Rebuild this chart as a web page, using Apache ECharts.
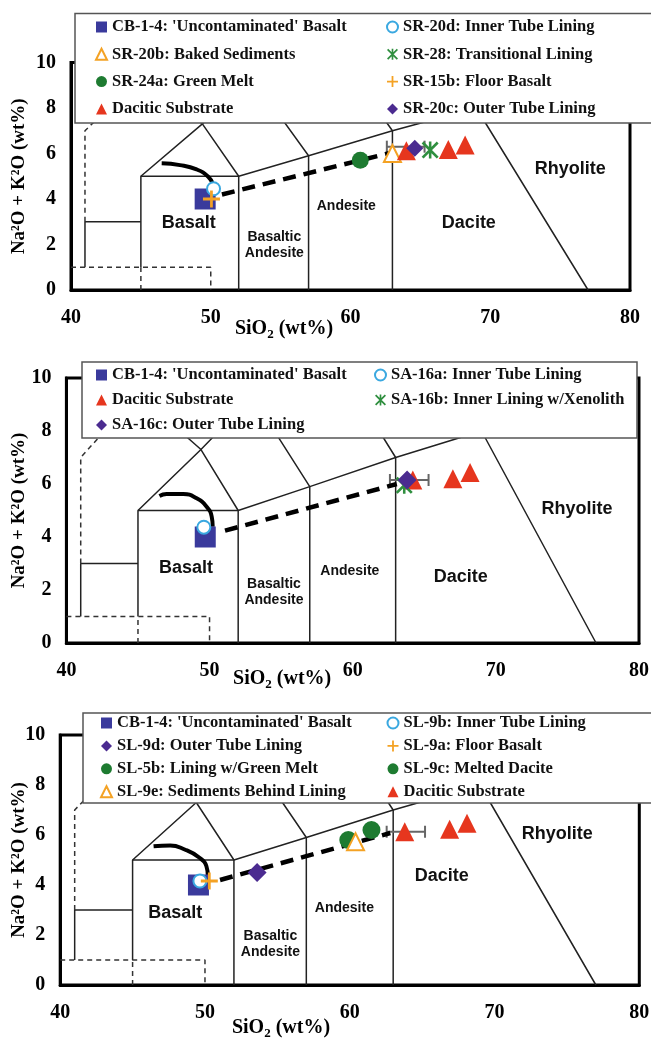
<!DOCTYPE html>
<html><head><meta charset="utf-8">
<script src="https://cdn.jsdelivr.net/npm/echarts@6/dist/echarts.min.js"></script>
<style>html,body{margin:0;padding:0;background:#fff}#c{width:651px;height:1039px}</style>
</head><body><div id="c"></div>
<script>
// ---------- data ----------
const xMin = 40, xMax = 80, xStep = 10;
const yMin = 0, yMax = 10, yStep = 2;

// TAS field boundaries (SiO2, Na2O+K2O)
const tasSolid = [
  [[41,1],[41,3],[45,3]],
  [[45,1],[45,5],[52,5],[52,0]],
  [[45,5],[49.4,7.3],[53,9.3],[57.6,11.7]],
  [[52,5],[49.4,7.3],[45,9.4]],
  [[52,5],[57,5.9],[63,7],[69,8]],
  [[57,0],[57,5.9],[53,9.3]],
  [[63,0],[63,7],[57.6,11.7]],
  [[77,0],[69,8],[69,13]]
];
const tasDashed = [
  [[41,3],[41,7],[45,9.4]],
  [[40,1],[50,1],[50,0]],
  [[45,0],[45,1]]
];
const regionNames = ['Basalt', 'Basaltic\nAndesite', 'Andesite', 'Dacite', 'Rhyolite'];
const regionPosP1 = [[48.43,2.93],[54.55,1.98],[59.7,3.69],[68.47,2.96],[75.73,5.3]];
const regionPosP2 = [[48.35,2.84],[54.5,1.91],[59.8,2.73],[67.55,2.5],[75.67,5.04]];
const regionPosP3 = [[47.94,2.87],[54.52,1.64],[59.63,3.07],[66.36,4.37],[74.33,6.03]];

// Panel 1 (SR samples)
const cb14P1 = [[49.6, 4.0]];
const sr20d = [[50.2, 4.45]];
const sr15b = [[50.05, 4.0]];
const sr24a = [[60.7, 5.7]];
const sr20b = [[63.0, 6.0]];
const dacP1 = [[64.0, 6.12], [67.0, 6.18], [68.2, 6.37]];
const sr20c = [[64.6, 6.23]];
const sr28 = [[65.7, 6.15]];
const errP1 = [[62.6, 65.3, 6.3]];
const trendP1 = [[50.8, 4.2], [63.0, 6.05]];
const curveP1 = [[46.49,5.57],[47.8,5.49],[48.99,5.3],[49.82,4.98],[50.18,4.62],[50.23,4.43]];

// Panel 2 (SA samples)
const cb14P2 = [[49.7, 4.0]];
const sa16a = [[49.6, 4.37]];
const dacP2 = [[64.2, 6.15], [67.0, 6.2], [68.2, 6.43]];
const sa16b = [[63.6, 5.95]];
const sa16c = [[63.8, 6.15]];
const errP2 = [[62.6, 65.3, 6.15]];
const trendP2 = [[51.08, 4.24], [63.08, 6.0]];
const curveP2 = [[46.5,5.55],[47.0,5.62],[48.17,5.62],[49.1,5.46],[49.8,5.14],[50.15,4.77],[50.22,4.39]];

// Panel 3 (SL samples)
const cb14P3 = [[49.55, 4.0]];
const sl9b = [[49.65, 4.16]];
const sl9a = [[50.3, 4.16]];
const sl9d = [[53.6, 4.5]];
const sl5b = [[59.9, 5.8]];
const sl9c = [[61.5, 6.2]];
const sl9e = [[60.4, 5.73]];
const dacP3 = [[63.8, 6.13], [66.9, 6.23], [68.1, 6.47]];
const errP3 = [[62.55, 65.2, 6.13]];
const trendP3 = [[51.04, 4.2], [62.8, 6.08]];
const curveP3 = [[46.45,5.55],[47.6,5.58],[48.6,5.42],[49.6,5.1],[50.1,4.75],[50.2,4.35]];

// ---------- names ----------
const N_CB = "CB-1-4: 'Uncontaminated' Basalt";
const N_DAC = 'Dacitic Substrate';
const legendP1a = [N_CB, 'SR-20b: Baked Sediments', 'SR-24a: Green Melt', N_DAC];
const legendP1b = ['SR-20d: Inner Tube Lining', 'SR-28: Transitional Lining', 'SR-15b: Floor Basalt', 'SR-20c: Outer Tube Lining'];
const legendP2a = [N_CB, N_DAC, 'SA-16c: Outer Tube Lining'];
const legendP2b = ['SA-16a: Inner Tube Lining', 'SA-16b: Inner Lining w/Xenolith'];
const legendP3a = [N_CB, 'SL-9d: Outer Tube Lining', 'SL-5b: Lining w/Green Melt', 'SL-9e: Sediments Behind Lining'];
const legendP3b = ['SL-9b: Inner Tube Lining', 'SL-9a: Floor Basalt', 'SL-9c: Melted Dacite', N_DAC];

// ---------- styles ----------
const SERIF = 'Liberation Serif', SANS = 'Liberation Sans';
const C = {navy:'#3a3a9c', blue:'#3aa8e0', orange:'#f4a224', greenX:'#2f8f3f', green:'#1e7b31', red:'#e6361e', purple:'#4b2b90'};
const PLUS = 'path://M-1.3,-8L1.3,-8L1.3,8L-1.3,8Z M-8,-1.3L8,-1.3L8,1.3L-8,1.3Z';
const STAR = 'path://M-8,-6.2L-6.2,-8L8,6.2L6.2,8Z M6.2,-8L8,-6.2L-6.2,8L-8,6.2Z M-1.2,-8L1.2,-8L1.2,8L-1.2,8Z';

const grids = [
  {left: 71, top: 62.5, width: 559, height: 227.5},
  {left: 66.4, top: 378, width: 572.6, height: 265},
  {left: 60.2, top: 735, width: 579.1, height: 250}
];
const yNameGap = [42, 37.7, 32];
const xNameGap = [27, 24, 31];
const xNameShift = [133, 141, 137.5];

const series = [];
function lineSer(gi, data, style, extra) {
  series.push(Object.assign({type:'line', xAxisIndex:gi, yAxisIndex:gi, data:data, symbol:'none',
    silent:true, animation:false, lineStyle:style, z:1}, extra || {}));
}
function scat(gi, name, data, symbol, size, color, extra) {
  const empty = symbol.indexOf('empty') === 0;
  series.push(Object.assign({type:'scatter', name:name, xAxisIndex:gi, yAxisIndex:gi, data:data,
    symbol:symbol, symbolSize:size, animation:false, z:3,
    itemStyle: empty ? {color:color, borderColor:color, borderWidth:2, opacity:1} : {color:color, opacity:1}}, extra || {}));
}
function errSer(gi, data) {
  series.push({type:'custom', xAxisIndex:gi, yAxisIndex:gi, data:data, silent:true, animation:false, z:2,
    encode:{x:[0,1], y:2},
    renderItem: function (params, api) {
      const lo = api.coord([api.value(0), api.value(2)]);
      const hi = api.coord([api.value(1), api.value(2)]);
      const h = 6, st = {stroke:'#666', lineWidth:2};
      return {type:'group', children:[
        {type:'line', shape:{x1:lo[0], y1:lo[1], x2:hi[0], y2:hi[1]}, style:st},
        {type:'line', shape:{x1:lo[0], y1:lo[1]-h, x2:lo[0], y2:lo[1]+h}, style:st},
        {type:'line', shape:{x1:hi[0], y1:hi[1]-h, x2:hi[0], y2:hi[1]+h}, style:st}
      ]};
    }});
}
function regionSer(gi, pos) {
  const data = pos.map(function (p, i) { return {value:p, name:regionNames[i]}; });
  data[1].label = {fontSize:14, lineHeight:16};
  data[2].label = {fontSize:14};
  series.push({type:'scatter', xAxisIndex:gi, yAxisIndex:gi, silent:true, animation:false, z:2,
    symbolSize:1, itemStyle:{color:'rgba(0,0,0,0)', opacity:1},
    data: data,
    label:{show:true, position:'inside', formatter:'{b}', color:'#111', fontFamily:SANS, fontWeight:'bold',
      fontSize:18, lineHeight:17},
    labelLayout:{hideOverlap:false}
  });
}
function base(gi, trend, curve, pos) {
  tasSolid.forEach(function (pl) { lineSer(gi, pl, {color:'#222', width:1.5}); });
  tasDashed.forEach(function (pl) { lineSer(gi, pl, {color:'#333', width:1.5, type:[5,4]}); });
  regionSer(gi, pos);
  lineSer(gi, trend, {color:'#000', width:4.5, type:[13,8]}, {z:2});
  lineSer(gi, curve, {color:'#000', width:4}, {z:2, smooth:true});
}

// Panel 1
base(0, trendP1, curveP1, regionPosP1);
errSer(0, errP1);
scat(0, N_CB, cb14P1, 'rect', 21, C.navy);
scat(0, 'SR-20d: Inner Tube Lining', sr20d, 'emptyCircle', 13, C.blue);
scat(0, 'SR-15b: Floor Basalt', sr15b, PLUS, 17, C.orange);
scat(0, 'SR-24a: Green Melt', sr24a, 'circle', 17, C.green);
scat(0, 'SR-20b: Baked Sediments', sr20b, 'emptyTriangle', 17, C.orange);
scat(0, N_DAC, dacP1, 'triangle', 19, C.red);
scat(0, 'SR-20c: Outer Tube Lining', sr20c, 'diamond', 17, C.purple);
scat(0, 'SR-28: Transitional Lining', sr28, STAR, 17, C.greenX);

// Panel 2
base(1, trendP2, curveP2, regionPosP2);
errSer(1, errP2);
scat(1, N_CB, cb14P2, 'rect', 21, C.navy);
scat(1, 'SA-16a: Inner Tube Lining', sa16a, 'emptyCircle', 13, C.blue);
scat(1, N_DAC, dacP2, 'triangle', 19, C.red);
scat(1, 'SA-16b: Inner Lining w/Xenolith', sa16b, STAR, 17, C.greenX);
scat(1, 'SA-16c: Outer Tube Lining', sa16c, 'diamond', 19, C.purple);

// Panel 3
base(2, trendP3, curveP3, regionPosP3);
errSer(2, errP3);
scat(2, N_CB, cb14P3, 'rect', 21, C.navy);
scat(2, 'SL-9b: Inner Tube Lining', sl9b, 'emptyCircle', 13, C.blue);
scat(2, 'SL-9a: Floor Basalt', sl9a, PLUS, 17, C.orange);
scat(2, 'SL-9d: Outer Tube Lining', sl9d, 'diamond', 19, C.purple);
scat(2, 'SL-5b: Lining w/Green Melt', sl5b, 'circle', 18, C.green);
scat(2, 'SL-9c: Melted Dacite', sl9c, 'circle', 18, C.green);
scat(2, 'SL-9e: Sediments Behind Lining', sl9e, 'emptyTriangle', 17, C.orange);
scat(2, N_DAC, dacP3, 'triangle', 19, C.red);

const tickText = {fontFamily:SERIF, fontWeight:'bold', fontSize:20, color:'#000'};
const xAxes = grids.map(function (g, i) {
  return {type:'value', gridIndex:i, min:xMin, max:xMax, interval:xStep,
    axisLine:{show:true, onZero:false, lineStyle:{color:'#000', width:3}},
    axisTick:{show:false}, splitLine:{show:false},
    axisLabel:Object.assign({margin:18}, tickText),
    name:'{a|SiO}{b|2}{a| (wt%)}', nameLocation:'middle', nameGap:xNameGap[i], nameMoveOverlap:false,
    nameTextStyle:{padding:[0, xNameShift[i], 0, 0],
      rich:{a:{fontFamily:SERIF, fontWeight:'bold', fontSize:20, color:'#000', lineHeight:24},
            b:{fontFamily:SERIF, fontWeight:'bold', fontSize:13, color:'#000', lineHeight:13, verticalAlign:'bottom'}}}
  };
});
const yAxes = grids.map(function (g, i) {
  return {type:'value', gridIndex:i, min:yMin, max:yMax, interval:yStep,
    axisLine:{show:true, onZero:false, lineStyle:{color:'#000', width:3}},
    axisTick:{show:false}, splitLine:{show:false},
    axisLabel:Object.assign({margin:15}, tickText),
    name:'Na²O + K²O (wt%)', nameLocation:'middle', nameGap:yNameGap[i], nameRotate:90, nameMoveOverlap:false,
    nameTextStyle:{fontFamily:SERIF, fontWeight:'bold', fontSize:19, color:'#000'}
  };
});

const legText = {fontFamily:SERIF, fontWeight:'bold', fontSize:16.5, color:'#111', lineHeight:18};
function leg(left, top, gap, data) {
  return {orient:'vertical', left:left, top:top, itemGap:gap, itemWidth:11, itemHeight:11,
    selectedMode:false, data:data, textStyle:legText, padding:0, z:10};
}
const legends = [
  leg(95, 18, 9.3, legendP1a), leg(386, 18, 9.3, legendP1b),
  leg(96, 366, 7, legendP2a), leg(374, 366, 7, legendP2b),
  leg(100, 714, 4.9, legendP3a), leg(386.5, 714, 4.9, legendP3b)
];
const boxStyle = {fill:'#fff', stroke:'#555', lineWidth:1.5};
const graphics = [
  {type:'rect', shape:{x:75, y:13.5, width:590, height:109.5}, style:boxStyle, z:8, silent:true},
  {type:'rect', shape:{x:82, y:362, width:555, height:76}, style:boxStyle, z:8, silent:true},
  {type:'rect', shape:{x:83, y:713, width:590, height:90}, style:boxStyle, z:8, silent:true}
];

const chart = echarts.init(document.getElementById('c'), null, {renderer:'canvas'});
chart.setOption({
  animation:false,
  backgroundColor:'#fff',
  grid: grids.map(function (g) { return Object.assign({show:true, borderColor:'#000', borderWidth:3,
    containLabel:false, outerBoundsMode:'none'}, g); }),
  xAxis:xAxes, yAxis:yAxes, legend:legends, graphic:graphics, series:series
});
</script></body></html>
